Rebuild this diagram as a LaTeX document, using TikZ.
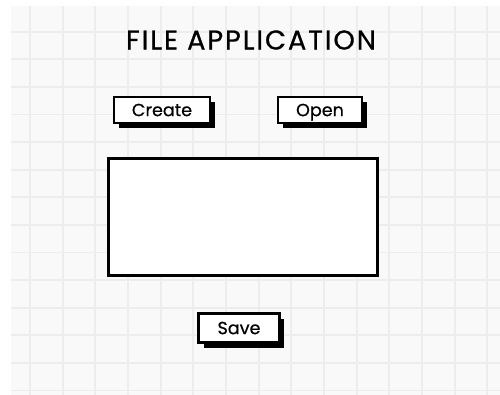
\documentclass[tikz,border=0pt]{standalone}
\usepackage{fontspec}
\setmainfont{Poppins}
\usetikzlibrary{shadows}
\definecolor{paperBg}{RGB}{249,249,249}
\definecolor{paperLn}{RGB}{237,237,237}

\begin{document}
\begin{tikzpicture}[x=0.02cm, y=-0.02cm,
    btn/.style={draw=black, line width=1.3pt, fill=white, inner sep=0pt,
      minimum height=0.53cm, text height=0.7em, text depth=0pt,
      font=\fontsize{10}{12}\selectfont\addfontfeature{FakeBold=0.6},
      drop shadow={shadow xshift=0.1cm, shadow yshift=-0.1cm, fill=black, opacity=1}},
    area/.style={draw=black, line width=1.8pt, fill=white, inner sep=0pt,
      minimum width=5.38cm, minimum height=2.34cm},
    ttl/.style={font=\fontsize{15.5}{18}\selectfont\addfontfeature{LetterSpace=7,FakeBold=0.6}}
  ]
  \useasboundingbox (0,0) rectangle (500,395);

  % grid paper
  \fill[paperBg] (11,6) rectangle (500,395);
  \foreach \i in {0,...,14}
    \draw[paperLn, line width=1.1pt] (30+32.67*\i,6) -- (30+32.67*\i,395);
  \foreach \j in {0,...,13}
    \draw[paperLn, line width=1.1pt] (11,31.7+27.6*\j) -- (500,31.7+27.6*\j);

  % title
  \node[ttl] (title) at (251,40) {FILE APPLICATION};

  % buttons
  \node[btn, minimum width=1.92cm] (create) at (162,110) {Create};
  \node[btn, minimum width=1.67cm] (open) at (320,110) {Open};

  % text area
  \node[area] (textarea) at (243,216.7) {};

  \node[btn, minimum width=1.62cm, minimum height=0.58cm] (save) at (239,328) {Save};
\end{tikzpicture}
\end{document}
